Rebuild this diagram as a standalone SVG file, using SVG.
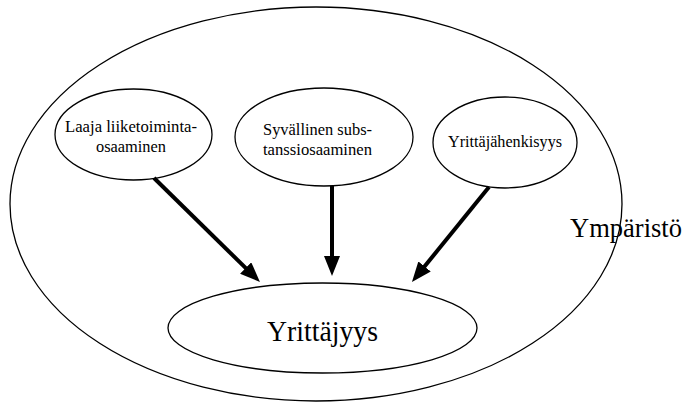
<svg xmlns="http://www.w3.org/2000/svg" width="691" height="405" viewBox="0 0 691 405">
  <style>
    .shape { fill: none; stroke: #000; stroke-width: 1.3; }
    .filled { fill: #fff; stroke: #000; stroke-width: 1.3; }
    .lbl { font-family: "Liberation Serif", "Times New Roman", serif; fill: #000; text-anchor: middle; }
    .small { font-size: 17.5px; }
    .big { font-size: 30px; }
    .env { font-size: 27px; }
    .conn { stroke: #000; stroke-width: 4; fill: none; marker-end: url(#arrow); }
  </style>
  <defs>
    <marker id="arrow" markerUnits="userSpaceOnUse" markerWidth="20" markerHeight="16" viewBox="0 0 20 16" refX="2" refY="8" orient="auto">
      <path d="M0,0 L20,8 L0,16 z" fill="#000"/>
    </marker>
  </defs>
  <rect width="691" height="405" fill="#fff"/>

  <g id="ymparisto">
    <ellipse class="shape" cx="316" cy="204" rx="306" ry="197"/>
    <text class="lbl env" x="626" y="237" textLength="112" lengthAdjust="spacingAndGlyphs">Ympäristö</text>
  </g>

  <g id="laaja">
    <ellipse class="filled" cx="133.5" cy="134.5" rx="78.5" ry="45.5"/>
    <text class="lbl small" x="131" y="132" textLength="132" lengthAdjust="spacingAndGlyphs">Laaja liiketoiminta-</text>
    <text class="lbl small" x="131" y="152" textLength="70" lengthAdjust="spacingAndGlyphs">osaaminen</text>
  </g>

  <g id="syvallinen">
    <ellipse class="filled" cx="324" cy="137" rx="89" ry="49"/>
    <text class="lbl small" x="317.5" y="135" textLength="109" lengthAdjust="spacingAndGlyphs">Syvällinen subs-</text>
    <text class="lbl small" x="317.5" y="155" textLength="109" lengthAdjust="spacingAndGlyphs">tanssiosaaminen</text>
  </g>

  <g id="yrittajahenkisyys">
    <ellipse class="filled" cx="505" cy="142.5" rx="72" ry="45.5"/>
    <text class="lbl small" x="505" y="147" textLength="114" lengthAdjust="spacingAndGlyphs">Yrittäjähenkisyys</text>
  </g>

  <g id="yrittajyys">
    <ellipse class="filled" cx="322.5" cy="328" rx="154.5" ry="45"/>
    <text class="lbl big" x="322.5" y="341" textLength="111" lengthAdjust="spacingAndGlyphs">Yrittäjyys</text>
  </g>

  <g id="connectors">
    <line class="conn" x1="154" y1="178" x2="247.1" y2="269.4"/>
    <line class="conn" x1="332" y1="186" x2="332" y2="258"/>
    <line class="conn" x1="489" y1="187" x2="423.3" y2="268"/>
  </g>
</svg>
